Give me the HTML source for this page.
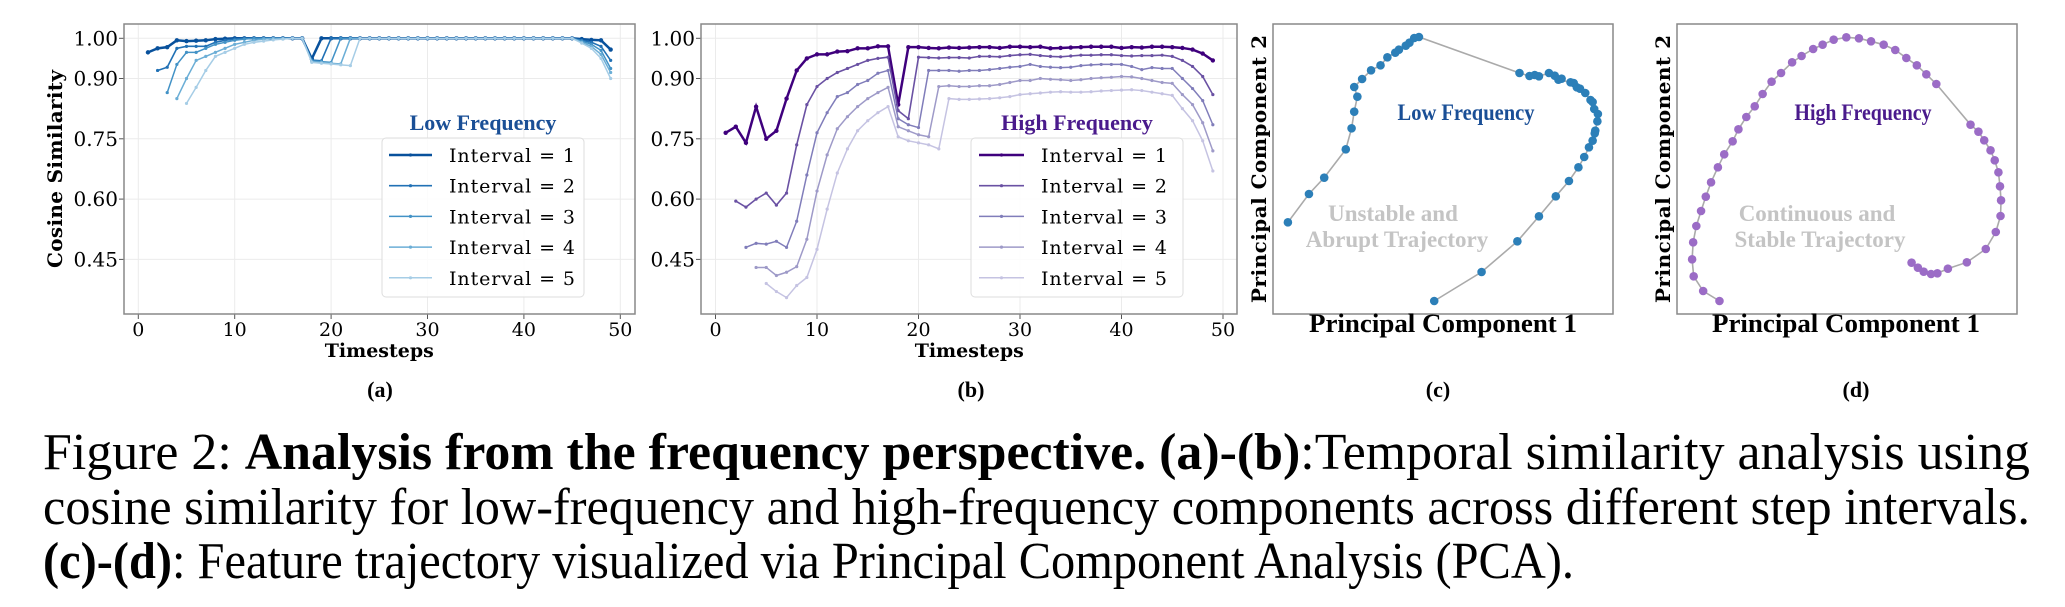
<!DOCTYPE html>
<html><head><meta charset="utf-8"><style>
body{margin:0;background:#fff;width:2065px;height:607px;overflow:hidden}
svg{display:block}
</style></head><body>
<svg id="s" width="2065" height="607" xmlns="http://www.w3.org/2000/svg"></svg>
<script>
const S=document.getElementById('s');let h='';
const DV='font-family:"DejaVu Serif",serif;';
const TM='font-family:"Liberation Serif",serif;';
function ytoA(v){return 38.3+(1-v)*402;}
function lineplot(L,R,x0,px,series,colors,widths,title,titleColor,leg,lineX,textX,ylab){
  for(let t=0;t<=50;t+=10){let x=x0+t*px;h+=`<line x1="${x}" y1="24" x2="${x}" y2="314" stroke="#ebebeb" stroke-width="1"/>`;
    h+=`<line x1="${x}" y1="314" x2="${x}" y2="319" stroke="#555"/>`;
    h+=`<text x="${x}" y="336" text-anchor="middle" style='${DV}font-size:19px'>${t}</text>`;}
  [1.0,0.9,0.75,0.6,0.45].forEach(v=>{let y=ytoA(v);h+=`<line x1="${L}" y1="${y}" x2="${R}" y2="${y}" stroke="#ebebeb"/>`;
    h+=`<line x1="${L-5}" y1="${y}" x2="${L}" y2="${y}" stroke="#555"/>`;
    h+=`<text x="${L-6}" y="${y+7}" text-anchor="end" style='${DV}font-size:20px'>${v.toFixed(2)}</text>`;});
  series.forEach((s,i)=>{let st=i+1;let n=50-st;
    if(s.length>n)s=s.slice(0,n-4).concat(s.slice(-4));
    let pts=s.map((v,j)=>[x0+(st+j)*px,ytoA(v)]);
    h+=`<polyline points="${pts.map(p=>p.join(',')).join(' ')}" fill="none" stroke="${colors[i]}" stroke-width="${widths[i]}"/>`;
    pts.forEach(p=>h+=`<circle cx="${p[0]}" cy="${p[1]}" r="${i==0?2.2:1.6}" fill="${colors[i]}"/>`);});
  h+=`<rect x="${L}" y="24" width="${R-L}" height="290" fill="none" stroke="#888" stroke-width="1.5"/>`;
  h+=`<text x="${leg[0]+ (leg[1]-leg[0])/2}" y="130" text-anchor="middle" style='${TM}font-size:22px;font-weight:bold' fill="${titleColor}">${title}</text>`;
  h+=`<rect x="${leg[0]}" y="138" width="${leg[1]-leg[0]}" height="159" rx="4" fill="#fff" fill-opacity="0.85" stroke="#ddd"/>`;
  for(let i=0;i<5;i++){let y=155+i*30.7;h+=`<line x1="${lineX[0]}" y1="${y}" x2="${lineX[1]}" y2="${y}" stroke="${colors[i]}" stroke-width="${widths[i]}"/>`;
    h+=`<circle cx="${(lineX[0]+lineX[1])/2}" cy="${y}" r="1.6" fill="${colors[i]}"/>`;
    h+=`<text x="${textX}" y="${y+7}" textLength="126" style='${DV}font-size:19px'>Interval = ${i+1}</text>`;}
  let cx=x0+25*px;
  h+=`<text x="${cx}" y="357" text-anchor="middle" style='${DV}font-size:19px;font-weight:bold'>Timesteps</text>`;
  if(ylab) h+=`<text transform="translate(62,169) rotate(-90)" text-anchor="middle" textLength="198" style='${DV}font-size:20px;font-weight:bold'>Cosine Similarity</text>`;
}
function lowSeries(){
 const starts=[[.965,.975,.978,.995,.993,.994,.995,.998,.999,1],[.92,.928,.975,.98,.98,.98,.99,.995,.998,1],[.865,.935,.965,.965,.975,.985,.99,.995,.998,1],[.85,.9,.945,.955,.965,.975,.985,.99,.995,.998,1],[.838,.878,.92,.955,.965,.975,.985,.99,.993,.996,.998,1]];
 const ends=[[.998,.996,.995,.972],[.995,.99,.98,.945],[.993,.985,.97,.925],[.99,.98,.96,.915],[.988,.975,.95,.9]];
 const drops=[.949,.946,.944,.942,.94];
 let out=[];
 for(let k=1;k<=5;k++){let a=[];
  for(let t=k;t<=49;t++){let v=1;let j=t-k;
   if(j<starts[k-1].length)v=starts[k-1][j];
   if(t>=18&&t<=17+k)v=drops[k-1]-(t-18)*0.002;
   if(t>=46)v=ends[k-1][t-46];
   a.push(v);}
  out.push(a);}
 return out;}
const low=lowSeries();
lineplot(124,635,138.3,9.64,low,['#08519c','#2171b5','#4292c6','#6baed6','#a6cde6'],[2.5,1.6,1.5,1.5,1.5],'Low Frequency','#1a4f96',[382,584],[389,432],449,true);
const high=[
[.765,.78,.74,.83,.75,.77,.85,.92,.95,.96,.96,.967,.968,.975,.975,.98,.98,.835,.978,.978,.976,.975,.977,.976,.977,.978,.978,.976,.979,.979,.978,.979,.975,.976,.977,.978,.979,.979,.979,.976,.978,.977,.979,.979,.978,.976,.972,.962,.945],
[.595,.58,.60,.615,.585,.615,.735,.835,.88,.90,.915,.925,.935,.945,.95,.953,.82,.80,.953,.952,.951,.952,.952,.951,.955,.955,.954,.957,.959,.960,.957,.955,.954,.956,.958,.958,.959,.959,.957,.956,.957,.957,.958,.955,.945,.93,.905,.86],
[.48,.49,.488,.495,.48,.545,.66,.765,.815,.855,.865,.885,.895,.913,.92,.80,.785,.778,.92,.92,.92,.918,.92,.92,.922,.925,.928,.93,.935,.93,.928,.927,.928,.932,.934,.935,.935,.935,.93,.922,.927,.925,.925,.92,.90,.875,.845,.785],
[.43,.43,.41,.418,.432,.50,.62,.71,.775,.805,.83,.85,.865,.878,.78,.77,.76,.755,.88,.882,.88,.88,.882,.882,.885,.89,.895,.895,.90,.898,.897,.895,.897,.9,.902,.903,.905,.904,.9,.895,.89,.888,.885,.885,.86,.835,.79,.72],
[.39,.37,.355,.385,.405,.475,.575,.665,.725,.77,.795,.815,.83,.755,.745,.74,.735,.725,.85,.848,.848,.849,.85,.852,.855,.86,.862,.864,.866,.867,.866,.866,.867,.869,.87,.871,.872,.87,.866,.862,.858,.855,.85,.84,.825,.795,.745,.67]];
lineplot(701,1237,715.5,10.15,high,['#3f007d','#6a51a3','#807dba','#9e9ac8','#c5c3e2'],[2.5,1.6,1.5,1.5,1.5],'High Frequency','#4a1a8c',[971,1183],[979,1024],1041,false);
function pca(L,pts,color){
  const P=pts.map(p=>[p[0]/1.9+1240,p[1]/3]);
  h+=`<polyline points="${P.map(p=>p.join(',')).join(' ')}" fill="none" stroke="#aaa" stroke-width="1.6"/>`;
  P.forEach(p=>h+=`<ellipse cx="${p[0]}" cy="${p[1]}" rx="4.3" ry="4.3" fill="${color}"/>`);
  h+=`<rect x="${L}" y="24" width="340" height="290" fill="none" stroke="#888" stroke-width="1.5"/>`;
}
const cpts=[[91,667],[131,582],[160,533],[201,448],[212,385],[217,335],[223,290],[217,261],[232,237],[249,211],[267,196],[280,172],[295,158],[302,149],[315,137],[322,128],[331,114],[340,111],[531,219],[550,228],[560,225],[568,229],[587,219],[598,227],[611,236],[605,239],[628,247],[634,249],[640,262],[646,266],[656,279],[666,300],[670,306],[673,327],[680,342],[679,364],[675,392],[674,400],[670,422],[663,442],[654,471],[643,502],[625,543],[600,589],[568,649],[527,724],[459,816],[369,903]];
const dpts=[[911,903],[880,873],[862,829],[859,778],[861,727],[867,678],[876,633],[885,590],[895,547],[908,502],[920,463],[936,424],[947,388],[962,351],[978,319],[993,282],[1010,245],[1028,219],[1049,187],[1067,168],[1089,147],[1107,134],[1128,119],[1152,112],[1176,115],[1199,124],[1223,134],[1245,150],[1266,174],[1286,196],[1304,223],[1323,252],[1388,374],[1403,395],[1414,421],[1426,451],[1434,481],[1441,517],[1444,559],[1446,601],[1445,648],[1436,696],[1417,747],[1381,787],[1345,806],[1325,820],[1313,822],[1299,815],[1288,803],[1276,788]];
pca(1273,cpts,'#2c7fb8');pca(1677,dpts,'#9b6cc6');
function pcaText(cx,ylx,t1,tc,g1,g2,gx){
  h+=`<text transform="translate(${ylx},169) rotate(-90)" text-anchor="middle" textLength="268" style='${DV}font-size:20px;font-weight:bold'>Principal Component 2</text>`;
  h+=`<text x="${cx}" y="332" text-anchor="middle" textLength="268" lengthAdjust="spacingAndGlyphs" style='${TM}font-size:26px;font-weight:bold'>Principal Component 1</text>`;
  h+=`<text x="${gx[0]}" y="120" text-anchor="middle" textLength="137" lengthAdjust="spacingAndGlyphs" style='${TM}font-size:23px;font-weight:bold' fill="${tc}">${t1}</text>`;
  h+=`<text x="${gx[1]}" y="221" text-anchor="middle" style='${TM}font-size:23px;font-weight:bold' fill="#c4c4c4">${g1}</text>`;
  h+=`<text x="${gx[2]}" y="247" text-anchor="middle" style='${TM}font-size:23px;font-weight:bold' fill="#c4c4c4">${g2}</text>`;
}
pcaText(1443,1266,'Low Frequency','#1a4f96','Unstable and','Abrupt Trajectory',[1466,1393,1397]);
pcaText(1846,1670,'High Frequency','#4a1a8c','Continuous and','Stable Trajectory',[1863,1817,1820]);
[['(a)',380],['(b)',971],['(c)',1438],['(d)',1856]].forEach(a=>h+=`<text x="${a[1]}" y="397" text-anchor="middle" style='${TM}font-size:22px;font-weight:bold'>${a[0]}</text>`);
h+=`<text x="43" y="469" textLength="1987" lengthAdjust="spacingAndGlyphs" style='${TM}font-size:52px'>Figure 2:  <tspan font-weight="bold">Analysis from the frequency perspective.  (a)-(b)</tspan>:Temporal similarity analysis using</text>`;
h+=`<text x="43" y="524" textLength="1987" lengthAdjust="spacingAndGlyphs" style='${TM}font-size:52px'>cosine similarity for low-frequency and high-frequency components across different step intervals.</text>`;
h+=`<text x="43" y="578" textLength="1531" lengthAdjust="spacingAndGlyphs" style='${TM}font-size:52px'><tspan font-weight="bold">(c)-(d)</tspan>: Feature trajectory visualized via Principal Component Analysis (PCA).</text>`;
S.innerHTML=h;
</script>
</body></html>
